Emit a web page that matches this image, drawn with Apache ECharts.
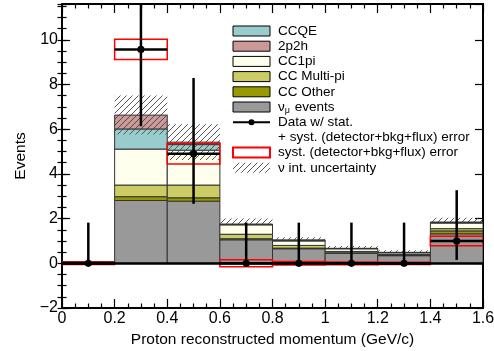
<!DOCTYPE html>
<html>
<head>
<meta charset="utf-8">
<script src="https://cdn.jsdelivr.net/npm/echarts@6/dist/echarts.min.js"></script>
<style>
  html, body { margin: 0; background: #fff; }
  #chart { width: 494px; height: 351px; }
</style>
</head>
<body>
<div id="chart"></div>
<script>
const FONT = 'Liberation Sans';

// bin edges (GeV/c)
const binLo = [0, 0.2, 0.4, 0.6, 0.8, 1.0, 1.2, 1.4];
const binHi = [0.2, 0.4, 0.6, 0.8, 1.0, 1.2, 1.4, 1.6];

// MC components, bottom -> top of the stack
const numuEvents = [0.06, 2.81, 2.78, 1.05, 0.65, 0.45, 0.34, 1.32];
const ccOther    = [0.01, 0.17, 0.15, 0.05, 0.03, 0.02, 0.01, 0.13];
const ccMultiPi  = [0.01, 0.52, 0.57, 0.20, 0.12, 0.06, 0.04, 0.10];
const cc1pi      = [0.00, 1.61, 1.56, 0.42, 0.20, 0.12, 0.08, 0.25];
const ccqe       = [0.00, 0.90, 0.25, 0.02, 0.03, 0.01, 0.01, 0.03];
const twoP2h     = [0.00, 0.62, 0.11, 0.01, 0.01, 0.01, 0.01, 0.01];

// nu interaction uncertainty band
const bandLo = [0.06, 5.76, 4.62, 1.74, 1.03, 0.67, 0.49, 1.84];
const bandHi = [0.10, 7.51, 6.22, 2.00, 1.17, 0.77, 0.58, 2.04];

// data
const dataY   = [0, 9.57, 4.90, 0, 0, 0, 0, 1.00];
const dataLo  = [0, 6.13, 2.66, 0, 0, 0, 0, 0.15];
const dataHi  = [1.82, 13.4, 8.29, 1.82, 1.82, 1.82, 1.82, 3.27];
const systErr = [0.05, 0.45, 0.46, 0.16, 0.08, 0.06, 0.05, 0.21];

const layers = [
  { name: 'ν_μ events', values: numuEvents, color: '#999999' },
  { name: 'CC Other', values: ccOther, color: '#999900' },
  { name: 'CC Multi-pi', values: ccMultiPi, color: '#cccc66' },
  { name: 'CC1pi', values: cc1pi, color: '#ffffee' },
  { name: 'CCQE', values: ccqe, color: '#99cccc' },
  { name: '2p2h', values: twoP2h, color: '#cc9999' },
];

const legendOrder = ['CCQE', '2p2h', 'CC1pi', 'CC Multi-pi', 'CC Other', 'ν_μ events'];

// hatch pattern
function makeHatch() {
  const s = 6;
  const c = document.createElement('canvas');
  c.width = s; c.height = s;
  const g = c.getContext('2d');
  g.strokeStyle = '#444';
  g.lineWidth = 0.9;
  g.beginPath();
  g.moveTo(0, s); g.lineTo(s, 0);
  g.moveTo(-1, 1); g.lineTo(1, -1);
  g.moveTo(s - 1, s + 1); g.lineTo(s + 1, s - 1);
  g.stroke();
  return c;
}
const hatch = { image: makeHatch(), repeat: 'repeat' };

function rectRender(style) {
  return (params, api) => {
    const a = api.coord([api.value(0), api.value(3)]);
    const b = api.coord([api.value(1), api.value(2)]);
    return {
      type: 'rect',
      shape: { x: a[0], y: a[1], width: b[0] - a[0], height: b[1] - a[1] },
      style: style,
    };
  };
}

// cumulative stack
const stackSeries = [];
let base = binLo.map(() => 0);
layers.forEach((l) => {
  const rows = binLo.map((x, i) => [x, binHi[i], base[i], base[i] + l.values[i]]);
  base = base.map((b, i) => b + l.values[i]);
  stackSeries.push({
    type: 'custom',
    name: l.name,
    clip: true,
    renderItem: rectRender({ fill: l.color, stroke: '#333', lineWidth: 1 }),
    data: rows,
  });
});

const bandSeries = {
  type: 'custom',
  clip: true,
  renderItem: rectRender({ fill: hatch, stroke: null }),
  data: binLo.map((x, i) => [x, binHi[i], bandLo[i], bandHi[i]]),
};

const systSeries = {
  type: 'custom',
  clip: true,
  renderItem: rectRender({ fill: null, stroke: '#ff0000', lineWidth: 1.5 }),
  data: binLo.map((x, i) => [x, binHi[i], dataY[i] - systErr[i], dataY[i] + systErr[i]]),
};

const dataSeries = {
  type: 'custom',
  clip: true,
  renderItem: (params, api) => {
    const x0 = api.value(0), x1 = api.value(1), y = api.value(2);
    const xc = (x0 + x1) / 2;
    const pl = api.coord([x0, y]);
    const pr = api.coord([x1, y]);
    const pc = api.coord([xc, y]);
    const pt = api.coord([xc, Math.min(api.value(4), 11.6)]);
    const pb = api.coord([xc, api.value(3)]);
    const st = { stroke: '#000', lineWidth: 2.5 };
    return {
      type: 'group',
      children: [
        { type: 'line', shape: { x1: pt[0], y1: pt[1], x2: pb[0], y2: pb[1] }, style: st },
        { type: 'line', shape: { x1: pl[0], y1: pl[1], x2: pr[0], y2: pr[1] }, style: st },
        { type: 'circle', shape: { cx: pc[0], cy: pc[1], r: 3.6 }, style: { fill: '#000' } },
      ],
    };
  },
  data: binLo.map((x, i) => [x, binHi[i], dataY[i], dataLo[i], dataHi[i]]),
  markLine: {
    silent: true,
    symbol: 'none',
    label: { show: false },
    lineStyle: { color: '#000', width: 2.5, type: 'solid' },
    data: [{ yAxis: 0 }],
  },
};

// legend drawn as graphics
const LX = 233, LW = 37, LH = 10, TX = 278;
const rowY = (k) => 31 + k * 15.2;
const legendEls = [];
const txt = (x, y, text) => ({
  type: 'text', x: x, y: y,
  style: { text: text, fill: '#000', font: '13.5px ' + FONT, verticalAlign: 'middle' },
});
legendOrder.forEach((name, k) => {
  const l = layers.find((d) => d.name === name);
  legendEls.push({
    type: 'rect', shape: { x: LX, y: rowY(k) - LH / 2, width: LW, height: LH },
    style: { fill: l.color, stroke: '#000', lineWidth: 1 },
  });
  if (name === 'ν_μ events') {
    legendEls.push({
      type: 'text', x: TX, y: rowY(k),
      style: {
        text: 'ν{s|μ} events', fill: '#000', font: '13.5px ' + FONT, verticalAlign: 'middle',
        rich: { s: { fontSize: 9, fontFamily: FONT, padding: [8, 1, 0, 0] } },
      },
    });
  } else {
    legendEls.push(txt(TX, rowY(k), name));
  }
});
legendEls.push({ type: 'line', shape: { x1: LX, y1: rowY(6), x2: LX + LW, y2: rowY(6) }, style: { stroke: '#000', lineWidth: 2 } });
legendEls.push({ type: 'circle', shape: { cx: LX + LW / 2, cy: rowY(6), r: 3 }, style: { fill: '#000' } });
legendEls.push(txt(TX, rowY(6), 'Data w/ stat.'));
legendEls.push(txt(TX, rowY(7), '+ syst. (detector+bkg+flux) error'));
legendEls.push({ type: 'rect', shape: { x: LX, y: rowY(8) - LH / 2, width: LW, height: LH }, style: { fill: '#fff', stroke: '#ff0000', lineWidth: 2 } });
legendEls.push(txt(TX, rowY(8), 'syst. (detector+bkg+flux) error'));
legendEls.push({ type: 'rect', shape: { x: LX, y: rowY(9) - LH / 2, width: LW, height: LH }, style: { fill: hatch } });
legendEls.push(txt(TX, rowY(9), 'ν int. uncertainty'));

const xCommon = {
  type: 'value', min: 0, max: 1.6, interval: 0.2,
  axisLine: { show: true, onZero: false, lineStyle: { color: '#000', width: 2 } },
  axisTick: { inside: true, length: 9, lineStyle: { color: '#000', width: 1.2 } },
  minorTick: { show: true, splitNumber: 4, length: 4.5, lineStyle: { color: '#000', width: 1.2 } },
  splitLine: { show: false },
};
const yMajor = {
  type: 'value', min: -2, max: 11.6, interval: 2,
  axisLine: { show: true, onZero: false, lineStyle: { color: '#000', width: 2 } },
  axisTick: { inside: true, length: 8, lineStyle: { color: '#000', width: 1.2 } },
  splitLine: { show: false },
};
const yMinor = {
  type: 'value', min: -2, max: 11.6, interval: 0.5,
  axisLine: { show: false },
  axisTick: { inside: true, length: 4.5, lineStyle: { color: '#000', width: 1.2 } },
  axisLabel: { show: false },
  splitLine: { show: false },
};

const chart = echarts.init(document.getElementById('chart'));
chart.setOption({
  animation: false,
  backgroundColor: '#fff',
  grid: { left: 62, right: 11, top: 4, bottom: 43, outerBoundsMode: 'none' },
  xAxis: [
    Object.assign({}, xCommon, {
      position: 'bottom',
      axisLabel: { fontSize: 16, fontFamily: FONT, color: '#000', margin: 3 },
      name: 'Proton reconstructed momentum (GeV/c)',
      nameLocation: 'middle', nameGap: 24,
      nameTextStyle: { fontSize: 15.5, fontFamily: FONT, color: '#000' },
    }),
    Object.assign({}, xCommon, { position: 'top', axisLabel: { show: false } }),
  ],
  yAxis: [
    Object.assign({}, yMajor, {
      position: 'left',
      axisLabel: {
        fontSize: 16, fontFamily: FONT, color: '#000', margin: 4,
        formatter: (v) => (Math.abs(v % 2) < 1e-6 ? String(v).replace('-', '−') : ''),
      },
      name: 'Events', nameLocation: 'middle', nameGap: 32,
      nameTextStyle: { fontSize: 15.5, fontFamily: FONT, color: '#000' },
    }),
    Object.assign({}, yMinor, { position: 'left' }),
    Object.assign({}, yMajor, { position: 'right', axisLabel: { show: false } }),
    Object.assign({}, yMinor, { position: 'right' }),
  ],
  graphic: legendEls,
  series: [...stackSeries, bandSeries, systSeries, dataSeries],
});
</script>
</body>
</html>
